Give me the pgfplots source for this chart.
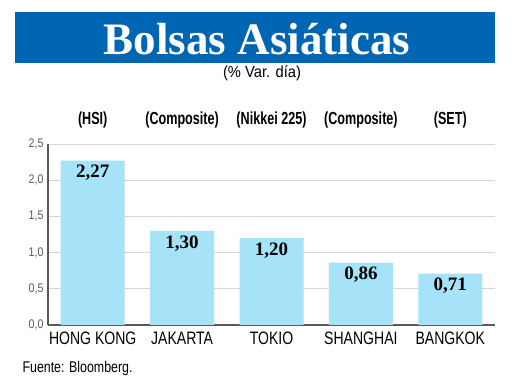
\documentclass[border=0pt]{standalone}
\usepackage{pgfplots}
\pgfplotsset{compat=1.18}
\usepackage{fontspec}
\setmainfont{Liberation Serif}
\newfontfamily\subfont[FakeStretch=0.92]{Liberation Sans}
\newfontfamily\labfont[FakeStretch=0.78]{Liberation Sans}
\newfontfamily\srcfont[FakeStretch=0.80]{Liberation Sans}
\newfontfamily\tickfont[FakeStretch=0.85]{Liberation Sans}
\newfontfamily\toplab[FakeStretch=0.72]{Liberation Sans}
\definecolor{banner}{RGB}{0,102,179}
\definecolor{barblue}{RGB}{166,226,248}
\definecolor{gridgray}{RGB}{215,215,215}
\definecolor{axgray}{RGB}{90,90,90}
\begin{document}
\begin{tikzpicture}[x=1pt,y=1pt]
\path[use as bounding box, fill=white] (0,0) rectangle (520,390);
\fill[banner] (15,327) rectangle (495,378);
\node[text=white, font=\fontsize{45}{45}\selectfont\bfseries] at (257,351) {Bolsas Asiáticas};
\node[font=\subfont\fontsize{16}{16}\selectfont] at (262,317) {(\% Var. día)};
\node[anchor=west, font=\srcfont\fontsize{15.5}{15.5}\selectfont] at (19,22) {Fuente: Bloomberg.};
\begin{axis}[
  at={(48pt,65pt)}, anchor=south west,
  scale only axis, width=447pt, height=181pt,
  xmin=-0.5, xmax=4.5, ymin=0, ymax=2.5,
  ybar, bar width=64pt,
  ytick={0,0.5,1,1.5,2,2.5},
  xtick={0,1,2,3,4},
  xticklabels={HONG KONG,JAKARTA,TOKIO,SHANGHAI,BANGKOK},
  ymajorgrids, grid style={gridgray, line width=0.9pt},
  axis x line*=bottom, axis y line*=left,
  axis line style={-, axgray, line width=1.1pt},
  major tick length=0pt,
  yticklabel style={font=\tickfont\fontsize{12.5}{12.5}\selectfont, text=axgray, xshift=-1pt,
    /pgf/number format/.cd, fixed, fixed zerofill, precision=1, use comma, assume math mode=true},
  xticklabel style={font=\labfont\fontsize{18}{18}\selectfont, anchor=north, text height=13pt, text depth=0pt, yshift=-3pt},
  nodes near coords={\pgfmathprintnumber[fixed,fixed zerofill,precision=2,use comma,assume math mode=true]{\pgfplotspointmeta}},
  nodes near coords style={anchor=north, yshift=-1pt, font=\fontsize{19}{19}\selectfont\bfseries, text=black},
  clip=false,
]
\addplot[fill=barblue, draw=none] coordinates {(0,2.27) (1,1.30) (2,1.20) (3,0.86) (4,0.71)};
\foreach \i/\t in {0/(HSI),1/(Composite),2/(Nikkei 225),3/(Composite),4/(SET)} {
  \edef\tmp{\noexpand\node[font=\noexpand\toplab\noexpand\fontsize{17.5}{17.5}\noexpand\selectfont\noexpand\bfseries, yshift=24pt] at (axis cs:\i,2.5) {\t};}
  \tmp
}
\end{axis}
\end{tikzpicture}
\end{document}
